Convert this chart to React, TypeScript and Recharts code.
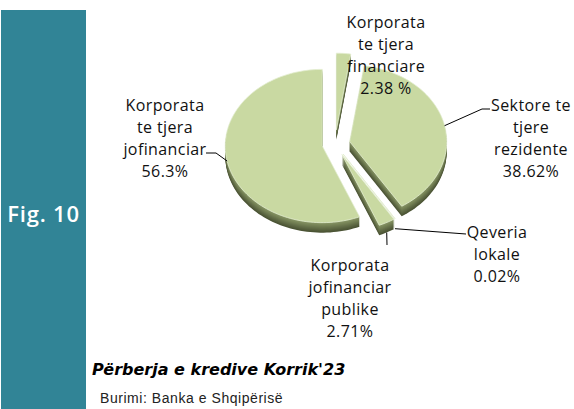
import React from 'react';
import { PieChart, Pie, Cell } from 'recharts';

// slices in Excel order, clockwise from 12 o'clock
const categories = [
  'Korporata\nte tjera\nfinanciare',
  'Sektore te\ntjere\nrezidente',
  'Qeveria\nlokale',
  'Korporata\njofinanciar\npublike',
  'Korporata\nte tjera\njofinanciar',
];
const shares = [2.38, 38.62, 0.02, 2.71, 56.3];
const shareLabels = ['2.38 %', '38.62%', '0.02%', '2.71%', '56.3%'];

const data = categories.map((name, i) => ({ name, value: shares[i] }));

// look of the 3d pie
const TILT = 0.79;
const DEPTH = 10;
const TOP_FILL = '#c9d9a2';
const EXPLODE = [18, 15, 15, 15, 13];

// label centre (offset from pie centre) and leader points
const LABEL_POS: { dx: number; dy: number; drop?: boolean; line?: number[][] }[] = [
  { dx: 51, dy: -122 },
  { dx: 196, dy: -39, line: [[147, -35], [155, -35]] },
  { dx: 162, dy: 88, drop: true, line: [[131, 90]] },
  { dx: 15, dy: 121, drop: true, line: [[52, 101]] },
  { dx: -170, dy: -39, line: [[-119, 9], [-129, 9]] },
];
const LINE_H = 22;

const idxOf = (p: any) => {
  if (typeof p.index === 'number') return p.index;
  return categories.indexOf(p.name ?? p.payload?.name);
};

const wedge = (cx: number, cy: number, r: number, a0: number, a1: number) => {
  const steps = Math.max(2, Math.ceil(Math.abs(a1 - a0) / 2));
  let d = `M${cx},${cy}`;
  for (let i = 0; i <= steps; i++) {
    const a = ((a0 + ((a1 - a0) * i) / steps) * Math.PI) / 180;
    d += ` L${cx + r * Math.cos(a)},${cy - r * Math.sin(a) * TILT}`;
  }
  return d + ' Z';
};

const mix = (a: number[], b: number[], t: number) =>
  `rgb(${a.map((v, i) => Math.round(v + (b[i] - v) * t)).join(',')})`;

const Slice3D = (props: any) => {
  const { cx, cy, outerRadius, startAngle, endAngle, midAngle, fill } = props;
  const e = EXPLODE[categories.indexOf(props.name ?? props.payload?.name)] ?? 0;
  const m = (midAngle * Math.PI) / 180;
  const ox = cx + e * Math.cos(m);
  const oy = cy - e * Math.sin(m) * TILT;
  const sides = [];
  for (let d = DEPTH; d >= 1; d--) {
    sides.push(
      <path
        key={d}
        d={wedge(ox, oy + d, outerRadius, startAngle, endAngle)}
        fill={mix([140, 154, 104], [74, 83, 52], d / DEPTH)}
      />
    );
  }
  return (
    <g>
      {sides}
      <path
        d={wedge(ox, oy, outerRadius, startAngle, endAngle)}
        fill={fill}
        stroke="#e3edd0"
        strokeWidth={0.8}
      />
    </g>
  );
};

const renderLabel = (props: any) => {
  const i = idxOf(props);
  const pos = LABEL_POS[i];
  if (!pos) return null;
  const { cx, cy, outerRadius, midAngle } = props;
  const lines = [...categories[i].split('\n'), shareLabels[i]];
  const e = EXPLODE[i];
  const m = (midAngle * Math.PI) / 180;
  const sx = cx + (outerRadius + e) * Math.cos(m);
  const sy = cy - (outerRadius + e) * Math.sin(m) * TILT + (pos.drop ? DEPTH : 0);
  const pts = pos.line
    ? [[sx, sy], ...pos.line.map(([x, y]) => [cx + x, cy + y])]
    : null;
  return (
    <g key={`lbl-${i}`}>
      {pts && (
        <polyline
          points={pts.map((p) => p.join(',')).join(' ')}
          fill="none"
          stroke="#000"
          strokeWidth={1}
        />
      )}
      {lines.map((t, k) => (
        <text
          key={k}
          x={cx + pos.dx}
          y={cy + pos.dy + k * LINE_H}
          textAnchor="middle"
          dominantBaseline="central"
          fontFamily="'Open Sans', sans-serif"
          fontSize={16}
          letterSpacing={0.4}
          fill="#111"
        >
          {t}
        </text>
      ))}
    </g>
  );
};

export default function App() {
  return (
    <div style={{ position: 'absolute', left: 0, top: 0, width: 574, height: 409, background: '#fff' }}>
      <div
        style={{
          position: 'absolute',
          left: 1,
          top: 10,
          width: 85,
          height: 399,
          background: '#318496',
        }}
      >
        <div
          style={{
            position: 'absolute',
            left: 0,
            width: 85,
            top: 188,
            textAlign: 'center',
            color: '#fff',
            fontFamily: "'Open Sans', sans-serif",
            fontWeight: 600,
            fontSize: 22,
            letterSpacing: 0.8,
          }}
        >
          Fig. 10
        </div>
      </div>

      <div style={{ position: 'absolute', left: 0, top: 0 }}>
        <PieChart width={574} height={409} margin={{ top: 0, right: 0, bottom: 0, left: 0 }}>
          <Pie
            data={data}
            dataKey="value"
            nameKey="name"
            cx={335}
            cy={144}
            outerRadius={97}
            startAngle={90}
            endAngle={-270}
            stroke="none"
            isAnimationActive={false}
            shape={Slice3D}
            activeShape={Slice3D}
            inactiveShape={Slice3D}
            label={renderLabel}
            labelLine={false}
          >
            {data.map((d, i) => (
              <Cell key={`cell-${i}`} fill={TOP_FILL} />
            ))}
          </Pie>
        </PieChart>
      </div>

      <div
        style={{
          position: 'absolute',
          left: 92,
          top: 360,
          fontFamily: "'DejaVu Sans', sans-serif",
          fontWeight: 'bold',
          fontStyle: 'italic',
          fontSize: 16,
          letterSpacing: 0,
          color: '#000',
          whiteSpace: 'nowrap',
        }}
      >
        Përberja e kredive Korrik'23
      </div>
      <div
        style={{
          position: 'absolute',
          left: 100,
          top: 390,
          fontFamily: "'Liberation Sans', Arial, sans-serif",
          fontSize: 14,
          letterSpacing: 0.55,
          color: '#222',
          whiteSpace: 'nowrap',
        }}
      >
        Burimi: Banka e Shqipërisë
      </div>
    </div>
  );
}
